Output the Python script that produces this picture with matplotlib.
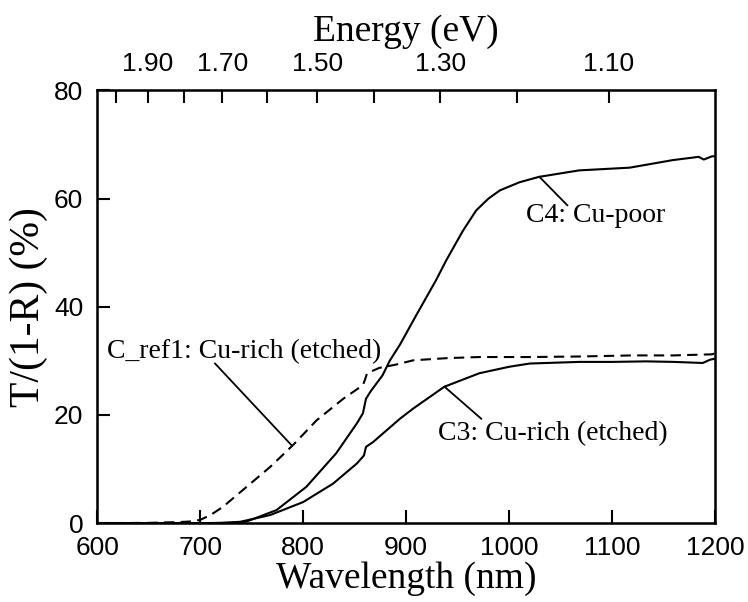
import matplotlib
matplotlib.use("Agg")
import matplotlib.pyplot as plt

# C_ref1: Cu-rich (etched), dashed
wl_ref = [600, 650, 680, 690, 700, 710, 722, 745, 768, 790, 813, 839, 858, 860, 862,
          874, 890, 907, 940, 971, 1020, 1068, 1120, 1160, 1197, 1200]
t_ref = [0, 0.05, 0.2, 0.3, 0.6, 1.5, 3.0, 6.7, 10.4, 14.4, 19.0, 23.0, 25.5, 26.5, 27.7,
         28.7, 29.3, 30.1, 30.5, 30.7, 30.7, 30.8, 31.0, 31.0, 31.2, 31.4]

# C3: Cu-rich (etched)
wl_c3 = [600, 700, 720, 739, 768, 800, 829, 852, 859, 861, 868, 874, 894, 907, 937,
         971, 1000, 1020, 1068, 1100, 1133, 1160, 1188, 1195, 1200]
t_c3 = [0, 0, 0.05, 0.25, 1.5, 3.9, 7.3, 11.0, 12.5, 14.1, 15.0, 16.0, 19.3, 21.2, 25.2,
        27.7, 28.9, 29.5, 29.8, 29.8, 29.9, 29.8, 29.6, 30.2, 30.4]

# C4: Cu-poor
wl_c4 = [600, 700, 730, 745, 774, 803, 832, 852, 858, 861, 866, 877, 884, 894, 910,
         929, 939, 955, 968, 980, 991, 1010, 1029, 1068, 1117, 1159, 1184, 1189, 1197, 1200]
t_c4 = [0, 0, 0.05, 0.3, 2.4, 6.7, 12.9, 18.4, 20.3, 23.0, 24.5, 27.3, 30.0, 33.0, 38.5,
        44.9, 48.6, 54.0, 57.8, 60.0, 61.5, 63.0, 64.0, 65.2, 65.7, 67.1, 67.7, 67.2, 67.8, 67.8]

# top energy axis: tick positions (nm)
top_tick_nm = [618, 649, 684, 721.5, 764.5, 813.5, 869, 933, 1008, 1097]
top_tick_lab = ['', '1.90', '', '1.70', '', '1.50', '', '1.30', '', '1.10']

serif = 'Liberation Serif'
sans = 'Liberation Sans'

fig = plt.figure(figsize=(7.48, 6.02), dpi=100)
ax = fig.add_axes([0.130, 0.131, 0.826, 0.719])

ax.plot(wl_c4, t_c4, color='black', lw=1.5)
ax.plot(wl_c3, t_c3, color='black', lw=1.5)
ax.plot(wl_ref, t_ref, color='black', lw=1.5, linestyle=(0, (5, 3)))

ax.set_xlim(600, 1200)
ax.set_ylim(0, 80)
ax.set_xticks([600, 700, 800, 900, 1000, 1100, 1200])
ax.set_yticks([0, 20, 40, 60, 80])
ax.tick_params(direction='in', length=9.5, width=1.5, labelsize=19, pad=10)
ax.tick_params(axis='x', pad=9)
for lab in ax.get_xticklabels() + ax.get_yticklabels():
    lab.set_fontfamily(sans)
for s in ax.spines.values():
    s.set_linewidth(1.8)

ax.set_xlabel('Wavelength (nm)', fontfamily=serif, fontsize=27, labelpad=1)
ax.set_ylabel('T/(1-R) (%)', fontfamily=serif, fontsize=30, labelpad=4)

ax2 = ax.twiny()
ax2.set_xlim(ax.get_xlim())
ax2.set_xticks(top_tick_nm)
ax2.set_xticklabels(top_tick_lab)
ax2.tick_params(direction='in', length=9.5, width=1.5, labelsize=19, pad=10)
for lab in ax2.get_xticklabels():
    lab.set_fontfamily(sans)
ax2.set_xlabel('Energy (eV)', fontfamily=serif, fontsize=27, labelpad=8)

# curve labels with leader lines
ax.plot([1029.4, 1056.5], [64.0, 58.75], color='black', lw=1.3)
ax.text(1016.8, 56.9, 'C4: Cu-poor', fontfamily=serif, fontsize=20, va='center')

ax.plot([937.3, 972.9], [25.2, 19.3], color='black', lw=1.3)
ax.text(930.8, 16.6, 'C3: Cu-rich (etched)', fontfamily=serif, fontsize=20, va='center')

ax.plot([714.4, 788.7], [29.5, 14.4], color='black', lw=1.3)
ax.text(609.4, 31.65, 'C_ref1: Cu-rich (etched)', fontfamily=serif, fontsize=20, va='center')

fig.savefig('out.png', dpi=100)
